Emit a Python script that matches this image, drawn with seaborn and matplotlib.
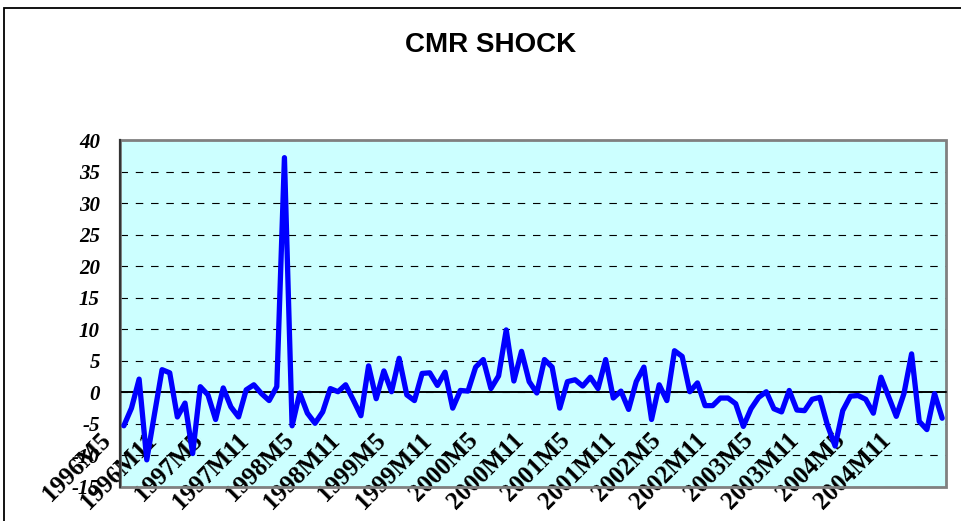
import matplotlib
matplotlib.use("Agg")
import matplotlib.pyplot as plt
import matplotlib.transforms as mtransforms
from matplotlib.patches import Rectangle
import numpy as np
import pandas as pd
import seaborn as sns

# ---------------- data ----------------
title = "CMR SHOCK"

# monthly CMR shock values, 1996M5 ... 2005M4
values = [
    -5.3, -2.5, 2.1, -10.7, -3.5, 3.6, 3.1, -3.9, -1.7, -9.7,
    0.9, -0.4, -4.3, 0.7, -2.3, -3.9, 0.4, 1.2, -0.2, -1.3,
    0.9, 37.2, -5.3, -0.1, -3.3, -4.9, -3.1, 0.6, 0.1, 1.2,
    -1.2, -3.7, 4.2, -1.0, 3.4, 0.1, 5.4, -0.4, -1.3, 3.0,
    3.1, 1.1, 3.2, -2.5, 0.3, 0.2, 4.0, 5.2, 0.6, 2.6,
    9.9, 1.8, 6.5, 1.7, -0.1, 5.2, 4.0, -2.5, 1.7, 2.0,
    1.0, 2.4, 0.6, 5.2, -0.9, 0.2, -2.7, 1.7, 4.0, -4.3,
    1.2, -1.3, 6.6, 5.7, 0.1, 1.5, -2.1, -2.1, -0.9, -0.9,
    -1.8, -5.4, -2.6, -0.8, 0.1, -2.6, -3.1, 0.3, -2.8, -2.9,
    -1.1, -0.8, -5.2, -8.5, -2.9, -0.6, -0.5, -1.1, -3.3, 2.4,
    -0.7, -3.8, -0.2, 6.1, -4.6, -5.9, -0.2, -4.1,
]

tick_labels = [
    "1996M5", "1996M11", "1997M5", "1997M11", "1998M5", "1998M11",
    "1999M5", "1999M11", "2000M5", "2000M11", "2001M5", "2001M11",
    "2002M5", "2002M11", "2003M5", "2003M11", "2004M5", "2004M11",
]
label_step = 6
y_ticks = [-15, -10, -5, 0, 5, 10, 15, 20, 25, 30, 35, 40]
y_tick_labels = ["-15", "-10", "-5", "0", "5", "10", "15", "20", "25", "30", "35", "40"]

# ---------------- figure ----------------
sns.set_style("white")
plt.rcParams["font.family"] = ["DejaVu Sans"]
plt.rcParams["lines.scale_dashes"] = False
plt.rcParams["text.color"] = "black"
plt.rcParams["xtick.color"] = "black"
plt.rcParams["ytick.color"] = "black"

W, H = 962, 521
fig = plt.figure(figsize=(W / 100, H / 100), dpi=100)
fig.patch.set_facecolor("white")

# outer chart border (top-left corner visible only)
fig.patches.append(Rectangle((4 / W, -0.2), 1.5, (1 - 8 / H) + 0.2,
                             transform=fig.transFigure, fill=False,
                             edgecolor="black", linewidth=1.3, zorder=0))

left, right, top, bottom = 120, 946, 140, 487
ax = fig.add_axes([left / W, 1 - bottom / H, (right - left) / W, (bottom - top) / H])
ax.set_facecolor("#CCFFFF")

df = pd.DataFrame({"idx": np.arange(len(values)), "value": values})
sns.lineplot(data=df, x="idx", y="value", ax=ax, color="#0000FF",
             linewidth=3.8, zorder=4)
for ln in ax.lines:
    ln.set_solid_joinstyle("round")
    ln.set_solid_capstyle("round")

ax.set_xlim(-0.5, len(values) - 0.5)
ax.set_ylim(-15, 40)

# gridlines
ax.set_yticks(y_ticks)
ax.set_yticklabels(y_tick_labels)
ax.yaxis.grid(True, color="black", linewidth=0.8, linestyle=(0, (5.4, 5.6)))
ax.xaxis.grid(False)
ax.set_axisbelow(True)

# zero line
ax.axhline(0, color="black", linewidth=1.2, zorder=3)

# plot-area border
ax.add_patch(Rectangle((0, 0), 1, 1, transform=ax.transAxes, fill=False,
                       edgecolor="#808080", linewidth=2.0, clip_on=False, zorder=2.4))
for s in ["top", "right"]:
    ax.spines[s].set_visible(False)
ax.spines["left"].set_color("#333333")
ax.spines["left"].set_linewidth(1.6)
ax.spines["left"].set_zorder(5)
ax.spines["bottom"].set_position(("data", 0))
ax.spines["bottom"].set_color("black")
ax.spines["bottom"].set_linewidth(1.2)

# x ticks: minor marks at category boundaries, labels every 6 months
ax.set_xticks(np.arange(-0.5, len(values), 1.0), minor=True)
major_pos = np.arange(0, len(values), label_step)[:len(tick_labels)]
ax.set_xticks(major_pos)
ax.set_xticklabels(tick_labels, rotation=45, ha="right", va="top",
                   rotation_mode="anchor", fontsize=18, fontweight="bold",
                   family=["Liberation Serif", "DejaVu Serif"], color="black")
ax.tick_params(axis="x", which="major", length=0, pad=0)
ax.tick_params(axis="x", which="minor", direction="out", length=5.8,
               width=0.9, color="black")
offset = mtransforms.ScaledTranslation(-25 / 100, -36 / 100, fig.dpi_scale_trans)
for lbl in ax.get_xticklabels():
    lbl.set_transform(lbl.get_transform() + offset)

ax.tick_params(axis="y", which="major", direction="out", length=6.5,
               width=1.0, color="#333333", pad=8)
for lbl in ax.get_yticklabels():
    lbl.set_fontfamily(["Liberation Serif", "DejaVu Serif"])
    lbl.set_fontweight("bold")
    lbl.set_fontstyle("italic")
    lbl.set_fontsize(15)
    lbl.set_color("black")

ax.set_xlabel("")
ax.set_ylabel("")

fig.text(491 / W, 1 - 45 / H, title, ha="center", va="center", color="black",
         fontsize=20, fontweight="bold", family=["Liberation Sans", "DejaVu Sans"])

fig.savefig("out.png", dpi=100)
